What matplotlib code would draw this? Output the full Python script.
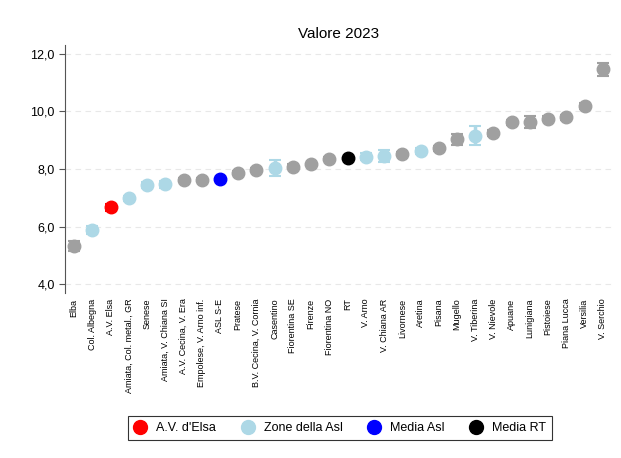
import numpy as np
import matplotlib.pyplot as plt
from matplotlib.ticker import FuncFormatter
from matplotlib.lines import Line2D

plt.rcParams['font.family'] = ['Liberation Sans', 'DejaVu Sans']

zone = ['Elba', 'Col. Albegna', 'A.V. Elsa', 'Amiata, Col. metal., GR', 'Senese',
        'Amiata, V. Chiana SI', 'A.V. Cecina, V. Era', 'Empolese, V. Arno inf.', 'ASL S-E',
        'Pratese', 'B.V. Cecina, V. Cornia', 'Casentino', 'Fiorentina SE', 'Firenze',
        'Fiorentina NO', 'RT', 'V. Arno', 'V. Chiana AR', 'Livornese', 'Aretina', 'Pisana',
        'Mugello', 'V. Tiberina', 'V. Nievole', 'Apuane', 'Lunigiana', 'Pistoiese',
        'Piana Lucca', 'Versilia', 'V. Serchio']
valori = [5.33, 5.88, 6.67, 6.98, 7.44, 7.47, 7.63, 7.63, 7.64, 7.86, 7.96, 8.02, 8.08,
          8.16, 8.36, 8.39, 8.43, 8.46, 8.51, 8.63, 8.72, 9.03, 9.16, 9.24, 9.62, 9.64,
          9.75, 9.80, 10.19, 11.46]
errori = [0.17, 0.15, 0.13, 0.08, 0.10, 0.13, 0.07, 0.05, 0.04, 0.06, 0.06, 0.28, 0.08,
          0.06, 0.05, 0.03, 0.12, 0.20, 0.07, 0.10, 0.08, 0.18, 0.32, 0.10, 0.10, 0.20,
          0.08, 0.08, 0.10, 0.24]
gruppo = ['altro', 'zona', 'elsa', 'zona', 'zona', 'zona', 'altro', 'altro', 'asl',
          'altro', 'altro', 'zona', 'altro', 'altro', 'altro', 'rt', 'zona', 'zona',
          'altro', 'zona', 'altro', 'altro', 'zona', 'altro', 'altro', 'altro', 'altro',
          'altro', 'altro', 'altro']

colori = {'altro': '#a0a0a0', 'zona': '#add8e6', 'elsa': '#ff0000',
          'asl': '#0000ff', 'rt': '#000000'}

fig = plt.figure(figsize=(6.21, 4.58), dpi=100)
ax = fig.add_axes([65 / 621, 1 - 293 / 458, 547 / 621, 248 / 458])

x = np.arange(len(zone))
for i in range(len(zone)):
    c = colori[gruppo[i]]
    ax.errorbar(x[i], valori[i], yerr=errori[i], fmt='o', color=c, ms=9,
                elinewidth=2.5, capsize=4, capthick=1.5, zorder=3)

ax.set_xlim(-0.5, len(zone) - 0.5)
ax.set_ylim(3.69, 12.31)
ax.set_yticks([4, 6, 8, 10, 12])
ax.yaxis.set_major_formatter(FuncFormatter(lambda v, p: f'{v:.1f}'.replace('.', ',')))
ax.set_xticks(x)
ax.set_xticklabels(zone, rotation=90, fontsize=6.5)
ax.tick_params(axis='x', length=0, pad=4)
ax.tick_params(axis='y', labelsize=9, length=4, color='#555555')
ax.grid(axis='y', linestyle=(0, (5, 4)), color='#e8e8e8', linewidth=0.8, zorder=0)
for s in ['top', 'right', 'bottom']:
    ax.spines[s].set_visible(False)
ax.spines['left'].set_color('#555555')
ax.set_title('Valore 2023', fontsize=11, pad=5)

handles = [Line2D([], [], marker='o', ls='', color=colori[k], ms=10)
           for k in ['elsa', 'zona', 'asl', 'rt']]
etichette = ["A.V. d'Elsa", 'Zone della Asl', 'Media Asl', 'Media RT']
leg = fig.legend(handles, etichette, loc='center', bbox_to_anchor=(340 / 621, 1 - 428 / 458),
                 ncol=4, fontsize=9, frameon=True, fancybox=False, edgecolor='black',
                 handletextpad=0.8, columnspacing=2.0, borderpad=0.5, handlelength=1)
leg.get_frame().set_linewidth(0.8)

fig.savefig('out.png', dpi=100)
